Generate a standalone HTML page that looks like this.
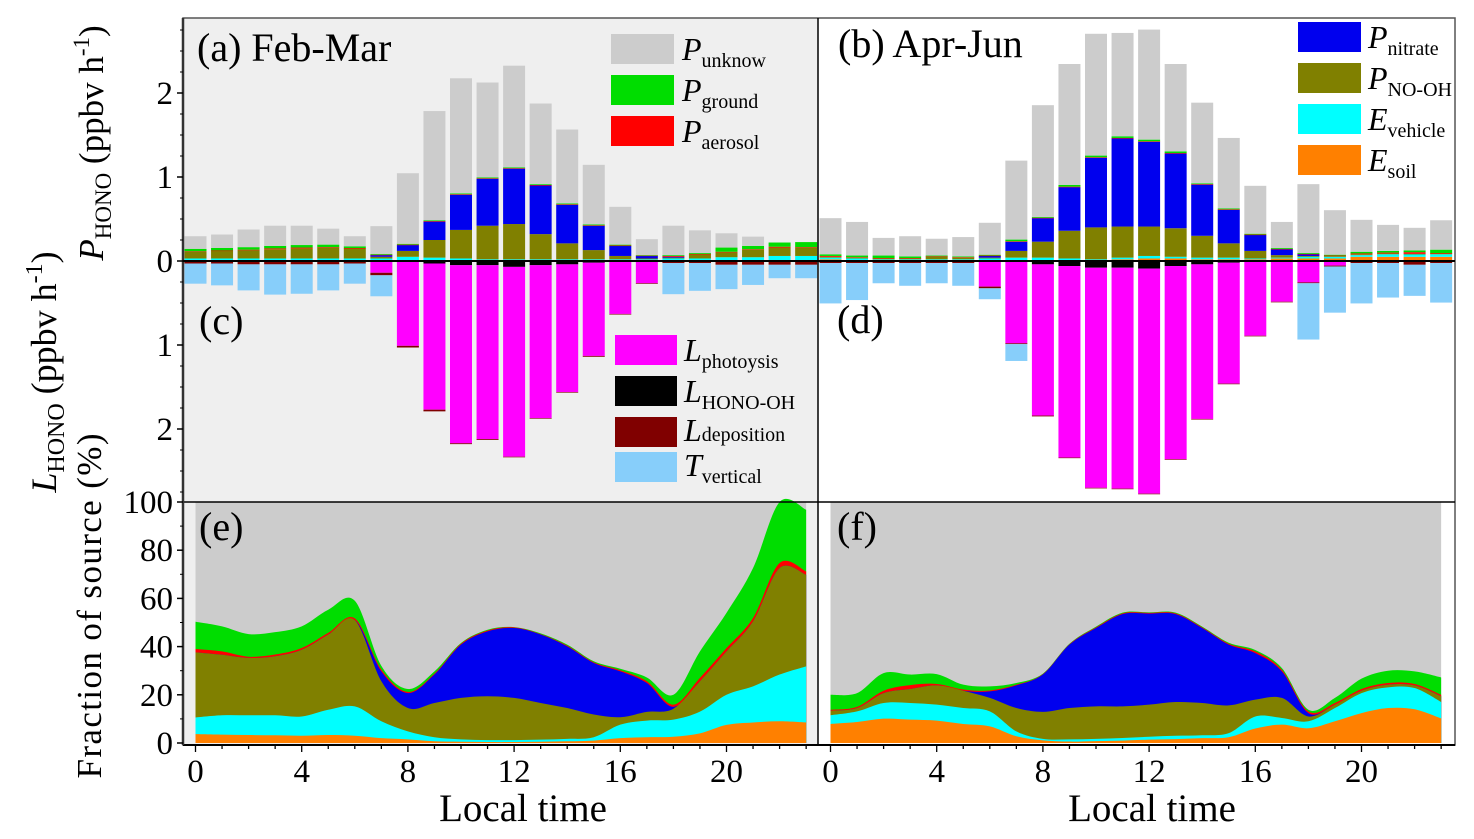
<!DOCTYPE html>
<html><head><meta charset="utf-8"><style>
html,body{margin:0;padding:0;background:#fff;}
svg{display:block;font-family:"Liberation Serif",serif;}
</style></head><body>
<svg id="chart" width="1474" height="839" viewBox="0 0 1474 839" xmlns="http://www.w3.org/2000/svg">
<rect x="0" y="0" width="1474" height="839" fill="#fff"/>
<rect x="183" y="18" width="635" height="727" fill="#efefef"/>
<g id="bars"></g>
<g id="areas"></g>
<g id="frame"></g>
<!-- panel labels -->
<text x="197" y="61" font-size="40">(a) Feb-Mar</text>
<text x="838" y="57" font-size="40">(b) Apr-Jun</text>
<text x="199" y="334" font-size="40">(c)</text>
<text x="837" y="333" font-size="40">(d)</text>
<text x="199" y="540" font-size="40">(e)</text>
<text x="837" y="540" font-size="40">(f)</text>
<!-- legends -->
<g font-size="32">
<rect x="611" y="34" width="63" height="30" fill="#cccccc"/>
<text x="682" y="60"><tspan font-style="italic">P</tspan><tspan font-size="20" dy="7">unknow</tspan></text>
<rect x="611" y="75" width="63" height="30" fill="#00dd00"/>
<text x="682" y="101"><tspan font-style="italic">P</tspan><tspan font-size="20" dy="7">ground</tspan></text>
<rect x="611" y="116" width="63" height="30" fill="#ff0000"/>
<text x="682" y="142"><tspan font-style="italic">P</tspan><tspan font-size="20" dy="7">aerosol</tspan></text>
</g>
<g font-size="32">
<rect x="615" y="335" width="62" height="30" fill="#ff00ff"/>
<text x="684" y="361"><tspan font-style="italic">L</tspan><tspan font-size="20" dy="7">photoysis</tspan></text>
<rect x="615" y="376" width="62" height="30" fill="#000"/>
<text x="684" y="402"><tspan font-style="italic">L</tspan><tspan font-size="20" dy="7">HONO-OH</tspan></text>
<rect x="615" y="417" width="62" height="30" fill="#800000"/>
<text x="684" y="441"><tspan font-style="italic">L</tspan><tspan font-size="20" dy="0">deposition</tspan></text>
<rect x="615" y="452" width="62" height="30" fill="#87cefa"/>
<text x="684" y="476"><tspan font-style="italic">T</tspan><tspan font-size="20" dy="7">vertical</tspan></text>
</g>
<g font-size="32">
<rect x="1298" y="22" width="63" height="30" fill="#0000ee"/>
<text x="1368" y="48"><tspan font-style="italic">P</tspan><tspan font-size="20" dy="7">nitrate</tspan></text>
<rect x="1298" y="63" width="63" height="30" fill="#808000"/>
<text x="1368" y="89"><tspan font-style="italic">P</tspan><tspan font-size="20" dy="7">NO-OH</tspan></text>
<rect x="1298" y="104" width="63" height="30" fill="#00ffff"/>
<text x="1368" y="130"><tspan font-style="italic">E</tspan><tspan font-size="20" dy="7">vehicle</tspan></text>
<rect x="1298" y="145" width="63" height="30" fill="#ff8000"/>
<text x="1368" y="171"><tspan font-style="italic">E</tspan><tspan font-size="20" dy="7">soil</tspan></text>
</g>
<!-- axis titles -->
<text transform="translate(103,143) rotate(-90)" text-anchor="middle" font-size="35"><tspan font-style="italic">P</tspan><tspan font-size="23" dy="8">HONO</tspan><tspan dy="-8"> (ppbv h</tspan><tspan font-size="23" dy="-14">-1</tspan><tspan dy="14">)</tspan></text>
<text transform="translate(56,372) rotate(-90)" text-anchor="middle" font-size="36"><tspan font-style="italic">L</tspan><tspan font-size="24" dy="8">HONO</tspan><tspan dy="-8"> (ppbv h</tspan><tspan font-size="24" dy="-14">-1</tspan><tspan dy="14">)</tspan></text>
<text transform="translate(101,606) rotate(-90)" text-anchor="middle" font-size="35" textLength="345">Fraction of source (%)</text>
<text x="523" y="821" text-anchor="middle" font-size="39">Local time</text>
<text x="1152" y="821" text-anchor="middle" font-size="39">Local time</text>
<g id="ticks"></g>
</svg>
<script>
const NS="http://www.w3.org/2000/svg";
const hours=[0,1,2,3,4,5,6,7,8,9,10,11,12,13,14,15,16,17,18,19,20,21,22,23];
// (a) Feb-Mar production, ppbv/h
const aSoil=[0,0,0,0,0,0,0,0,0,0,0,0,0,0,0,0,0,0,0,0,0.005,0.005,0.01,0.01];
const aVehicle=[0.03,0.03,0.03,0.03,0.03,0.03,0.03,0.03,0.05,0.04,0.03,0.02,0.02,0.02,0.02,0.02,0.02,0.02,0.03,0.03,0.04,0.04,0.05,0.05];
const aNoOh=[0.08,0.09,0.1,0.11,0.12,0.13,0.12,0.02,0.07,0.21,0.34,0.4,0.42,0.3,0.19,0.11,0.04,0.01,0.01,0.05,0.06,0.09,0.1,0.1];
const aNitrate=[0,0,0,0,0,0,0,0.02,0.07,0.22,0.42,0.56,0.66,0.58,0.46,0.29,0.12,0.03,0.01,0,0,0,0,0];
const aAerosol=[0.005,0.005,0.005,0.01,0.01,0.005,0.005,0.005,0.005,0.005,0.005,0.005,0.005,0.005,0.005,0.005,0.005,0.005,0.01,0.005,0.005,0.005,0.01,0.005];
const aGround=[0.03,0.03,0.03,0.03,0.03,0.03,0.02,0.01,0.01,0.01,0.01,0.01,0.01,0.01,0.01,0.01,0.01,0.005,0.01,0.01,0.05,0.04,0.05,0.06];
const aUnknown=[0.15,0.16,0.21,0.24,0.23,0.19,0.12,0.33,0.84,1.3,1.37,1.13,1.21,0.96,0.88,0.71,0.45,0.19,0.35,0.27,0.17,0.11,0,0];
// (c) Feb-Mar loss
const cHonoOh=[0.01,0.01,0.01,0.01,0.01,0.01,0.01,0.01,0.01,0.03,0.05,0.05,0.07,0.05,0.04,0.02,0.01,0.005,0.005,0.005,0.005,0.005,0.005,0.005];
const cPhotolysis=[0,0,0,0,0,0,0,0.13,1.0,1.74,2.12,2.07,2.26,1.82,1.52,1.11,0.62,0.26,0,0,0,0,0,0];
const cDeposition=[0.02,0.02,0.03,0.03,0.03,0.03,0.02,0.03,0.02,0.02,0.01,0.01,0.005,0.005,0.005,0.01,0.005,0.005,0.02,0.02,0.04,0.04,0.04,0.04];
const cVertical=[0.24,0.26,0.31,0.36,0.35,0.31,0.24,0.25,0,0,0,0,0,0,0,0,0,0,0.37,0.33,0.29,0.24,0.16,0.16];
// (b) Apr-Jun production
const bSoil=[0.02,0.01,0.01,0.01,0.01,0.01,0.01,0.01,0.01,0.01,0.01,0.02,0.03,0.03,0.02,0.02,0.02,0.03,0.03,0.03,0.05,0.05,0.05,0.05];
const bVehicle=[0.02,0.02,0.01,0.01,0.01,0.01,0.02,0.03,0.03,0.02,0.01,0.02,0.03,0.02,0.02,0.02,0.01,0.01,0.02,0.02,0.02,0.03,0.03,0.03];
const bNoOh=[0.01,0.01,0.01,0.01,0.03,0.02,0.01,0.08,0.19,0.33,0.38,0.37,0.35,0.34,0.26,0.17,0.09,0.03,0.01,0.01,0.01,0.01,0.005,0.01];
const bNitrate=[0,0,0,0,0,0,0.02,0.11,0.28,0.52,0.83,1.05,1.01,0.89,0.61,0.4,0.19,0.07,0.02,0,0,0,0,0];
const bAerosol=[0.01,0.005,0.005,0.005,0.005,0.005,0.005,0.005,0.005,0.005,0.005,0.005,0.005,0.005,0.005,0.005,0.005,0.005,0.005,0.005,0.01,0.01,0.02,0.005];
const bGround=[0.02,0.02,0.03,0.02,0.01,0.01,0.01,0.02,0.01,0.02,0.02,0.02,0.02,0.02,0.01,0.01,0.01,0.01,0.01,0.01,0.02,0.02,0.02,0.04];
const bUnknown=[0.43,0.4,0.21,0.24,0.2,0.23,0.38,0.94,1.33,1.44,1.45,1.23,1.31,1.04,0.96,0.84,0.57,0.31,0.82,0.53,0.38,0.31,0.27,0.35];
// (d) Apr-Jun loss
const dHonoOh=[0.005,0.005,0.005,0.005,0.005,0.005,0.005,0.01,0.04,0.06,0.08,0.08,0.09,0.06,0.04,0.02,0.01,0.005,0.005,0.005,0.005,0.005,0.005,0.005];
const dPhotolysis=[0,0,0,0,0,0,0.3,0.97,1.8,2.28,2.62,2.63,2.68,2.3,1.84,1.44,0.88,0.48,0.25,0.05,0,0,0,0];
const dDeposition=[0.02,0.02,0.02,0.02,0.02,0.02,0.02,0.01,0.01,0.005,0.005,0.005,0.005,0.005,0.005,0.005,0.005,0.005,0.01,0.01,0.02,0.02,0.04,0.02];
const dVertical=[0.48,0.44,0.24,0.27,0.24,0.27,0.13,0.2,0,0,0,0,0,0,0,0,0,0,0.67,0.55,0.48,0.41,0.37,0.47];
// (e) Feb-Mar source fractions, cumulative boundaries (%)
const eSoilTop=[3.7,3.5,3.3,3.2,3,3.3,3,2,1.5,0.7,0.5,0.4,0.4,0.5,0.7,1,2,2.4,2.6,4,7.5,8.5,9,8.5];
const eVehicleTop=[10.6,11.5,11.5,11.5,11,13.8,15.2,9,4.8,2.4,1.5,1.2,1.2,1.4,1.7,2.4,7.6,9.3,9.7,13,20,23.5,28.4,31.8];
const eNoOhTop=[37.6,36.6,35.3,36,38.7,45,51,25.6,14.5,16.6,18.7,19.4,18.7,16.6,14.5,11.8,10.7,12.9,14.2,25.6,38,50.5,72.6,69.8];
const eNitrateTop=[37.6,36.6,35.3,36,38.7,45,51,29.7,20.7,28.4,40.8,46.3,47.7,45,40.1,33.2,29.7,24.9,15,25.6,38,50.5,72.6,69.8];
const eAerosolTop=[39,38,35.8,36.7,39.4,45.7,51.7,30.5,21.2,28.8,41.2,46.7,48,45.2,40.4,33.5,30.2,25.6,15.9,27,39.4,51.9,74.7,71.2];
const eGroundTop=[50.3,48.4,45.2,46,48.4,55.3,59,32,22.4,29.7,41.5,47,48.1,45.5,40.8,33.9,30.8,27.2,20,38,54,72.6,100,96.8];
// (f) Apr-Jun source fractions, cumulative boundaries (%)
const fSoilTop=[7.9,8.7,10.1,9.7,9.3,7.9,6.9,2.8,1.1,0.6,0.8,1,1.4,1.6,2,2.4,6,7.6,6.1,9,12.4,14.5,14,10.2];
const fVehicleTop=[11.5,13.1,16.6,16.6,15.9,14.5,13.1,4.8,1.7,1.5,1.7,2.1,2.6,3,3.2,4.1,11,10.4,9,14.5,20.7,23.1,22.8,17];
const fNoOhTop=[13.4,14.5,20.7,22.4,23.9,21.7,18.7,14.5,12.9,14.5,15.2,15.2,15.9,17,16.6,15.6,18,18.7,11,15.9,21.7,24.2,23.9,19.4];
const fNitrateTop=[13.4,14.5,20.7,22.4,23.9,21.7,21.4,23.9,28.4,40.8,47.7,53.5,53.7,53.5,47.7,40.8,37.3,29.7,12.4,15.9,21.7,24.2,23.9,19.4];
const fAerosolTop=[13.8,15,21.7,24,24.5,22.2,21.8,24.2,28.6,41,48,53.8,54,53.8,48,41.2,38,30.4,13.1,16.6,22.4,24.9,24.5,20];
const fGroundTop=[20,20.7,29,28.4,28.6,24.2,23.5,24.9,28.8,41.2,48.3,54.1,54.2,54.1,48.3,41.6,38.6,31.1,13.8,18.7,26.7,30,29.7,27.2];
const xTickLabels=["0","4","8","12","16","20"];
const yTopTicks=[2,1,0,1,2];
const yTopTickVals=[2,1,0,-1,-2];
const yFracTicks=[0,20,40,60,80,100];

const DX=26.55;
const xLeft=h=>195.5+h*DX;
const xRight=h=>830.5+h*DX;
const ZERO=261, UNIT=84;
const yBar=v=>ZERO-v*UNIT;
const yFrac=p=>743-p*2.41;
const BW=22;

const C={soil:"#ff8000",veh:"#00ffff",nooh:"#808000",nit:"#0000ee",aer:"#ff0000",gr:"#00dd00",unk:"#cccccc",oh:"#000000",phot:"#ff00ff",dep:"#800000",vert:"#87cefa"};

function mk(tag,attrs,parent){const e=document.createElementNS(NS,tag);for(const k in attrs)e.setAttribute(k,attrs[k]);parent.appendChild(e);return e;}

const barsG=document.getElementById('bars');
function drawStack(xf,series,dir,prefix){
  hours.forEach((h,i)=>{
    let acc=0;
    series.forEach(s=>{
      const v=s.vals[i];
      if(v<=0)return;
      const y0=yBar(dir*acc), y1=yBar(dir*(acc+v));
      const r=mk('rect',{x:xf(h)-BW/2,y:Math.min(y0,y1),width:BW,height:Math.max(0.6,Math.abs(y1-y0)),fill:s.c},barsG);
      
      
      acc+=v;
    });
  });
}
drawStack(xLeft,[{n:'soil',c:C.soil,vals:aSoil},{n:'vehicle',c:C.veh,vals:aVehicle},{n:'no-oh',c:C.nooh,vals:aNoOh},{n:'nitrate',c:C.nit,vals:aNitrate},{n:'aerosol',c:C.aer,vals:aAerosol},{n:'ground',c:C.gr,vals:aGround},{n:'unknown',c:C.unk,vals:aUnknown}],1,'a');
drawStack(xLeft,[{n:'hono-oh',c:C.oh,vals:cHonoOh},{n:'photolysis',c:C.phot,vals:cPhotolysis},{n:'deposition',c:C.dep,vals:cDeposition},{n:'vertical',c:C.vert,vals:cVertical}],-1,'c');
drawStack(xRight,[{n:'soil',c:C.soil,vals:bSoil},{n:'vehicle',c:C.veh,vals:bVehicle},{n:'no-oh',c:C.nooh,vals:bNoOh},{n:'nitrate',c:C.nit,vals:bNitrate},{n:'aerosol',c:C.aer,vals:bAerosol},{n:'ground',c:C.gr,vals:bGround},{n:'unknown',c:C.unk,vals:bUnknown}],1,'b');
drawStack(xRight,[{n:'hono-oh',c:C.oh,vals:dHonoOh},{n:'photolysis',c:C.phot,vals:dPhotolysis},{n:'deposition',c:C.dep,vals:dDeposition},{n:'vertical',c:C.vert,vals:dVertical}],-1,'d');

// areas
const areasG=document.getElementById('areas');
function smoothPath(pts){
  let d='M'+pts[0][0]+','+pts[0][1];
  for(let i=0;i<pts.length-1;i++){
    const p0=pts[Math.max(0,i-1)],p1=pts[i],p2=pts[i+1],p3=pts[Math.min(pts.length-1,i+2)];
    const c1x=p1[0]+(p2[0]-p0[0])/6,c1y=p1[1]+(p2[1]-p0[1])/6;
    const c2x=p2[0]-(p3[0]-p1[0])/6,c2y=p2[1]-(p3[1]-p1[1])/6;
    d+=' C'+c1x.toFixed(2)+','+c1y.toFixed(2)+' '+c2x.toFixed(2)+','+c2y.toFixed(2)+' '+p2[0].toFixed(2)+','+p2[1].toFixed(2);
  }
  return d;
}
function drawAreas(xf,layers,prefix){
  const bg=mk('rect',{x:xf(0),y:yFrac(100),width:xf(23)-xf(0),height:yFrac(0)-yFrac(100),fill:C.unk},areasG);
  
  
  layers.forEach(L=>{
    const pts=hours.map((h,i)=>[xf(h),yFrac(L.vals[i])]);
    const d=smoothPath(pts)+' L'+xf(23)+','+yFrac(0)+' L'+xf(0)+','+yFrac(0)+' Z';
    const p=mk('path',{d:d,fill:L.c},areasG);
    
    
  });
}
drawAreas(xLeft,[{n:'ground',c:C.gr,vals:eGroundTop},{n:'aerosol',c:C.aer,vals:eAerosolTop},{n:'nitrate',c:C.nit,vals:eNitrateTop},{n:'no-oh',c:C.nooh,vals:eNoOhTop},{n:'vehicle',c:C.veh,vals:eVehicleTop},{n:'soil',c:C.soil,vals:eSoilTop}],'e');
drawAreas(xRight,[{n:'ground',c:C.gr,vals:fGroundTop},{n:'aerosol',c:C.aer,vals:fAerosolTop},{n:'nitrate',c:C.nit,vals:fNitrateTop},{n:'no-oh',c:C.nooh,vals:fNoOhTop},{n:'vehicle',c:C.veh,vals:fVehicleTop},{n:'soil',c:C.soil,vals:fSoilTop}],'f');

// frame
const fr=document.getElementById('frame');
mk('rect',{x:183,y:18,width:1272,height:727,fill:'none',stroke:'#555','stroke-width':1.5},fr);
mk('line',{x1:818,y1:18,x2:818,y2:745,stroke:'#000','stroke-width':1.5},fr);
mk('line',{x1:183,y1:502,x2:1455,y2:502,stroke:'#000','stroke-width':1.5},fr);
mk('line',{x1:183,y1:745,x2:1455,y2:745,stroke:'#000','stroke-width':2},fr);
mk('line',{x1:183,y1:18,x2:183,y2:745,stroke:'#333','stroke-width':2.5},fr);
const zl=mk('line',{x1:183,y1:ZERO,x2:1455,y2:ZERO,stroke:'#000','stroke-width':2},fr);



// ticks
const tg=document.getElementById('ticks');
yTopTicks.forEach((lab,i)=>{
  const y=yBar(yTopTickVals[i]);
  mk('line',{x1:177,y1:y,x2:183,y2:y,stroke:'#000','stroke-width':1.5},tg);
  const t=mk('text',{x:173,y:y+11,'text-anchor':'end','font-size':33},tg);
  t.textContent=lab;
  
  
});
for(let v=-2.75;v<=2.75;v+=0.25){const y=yBar(v);if(y>20&&y<500)mk('line',{x1:180,y1:y,x2:183,y2:y,stroke:'#000','stroke-width':1},tg);}
yFracTicks.forEach(p=>{
  const y=yFrac(p);
  mk('line',{x1:177,y1:y,x2:183,y2:y,stroke:'#000','stroke-width':1.5},tg);
  const t=mk('text',{x:173,y:y+11,'text-anchor':'end','font-size':33},tg);
  t.textContent=String(p);
  
  
});
for(let p=10;p<100;p+=20){const y=yFrac(p);mk('line',{x1:180,y1:y,x2:183,y2:y,stroke:'#000','stroke-width':1},tg);}
[xLeft,xRight].forEach((xf,k)=>{
  hours.forEach(h=>{mk('line',{x1:xf(h),y1:745,x2:xf(h),y2:h%4===0?752:749,stroke:'#000','stroke-width':1.3},tg);});
  xTickLabels.forEach(lab=>{
    const t=mk('text',{x:xf(+lab),y:782,'text-anchor':'middle','font-size':33},tg);
    t.textContent=lab;
    
    
  });
});
</script>
</body></html>
